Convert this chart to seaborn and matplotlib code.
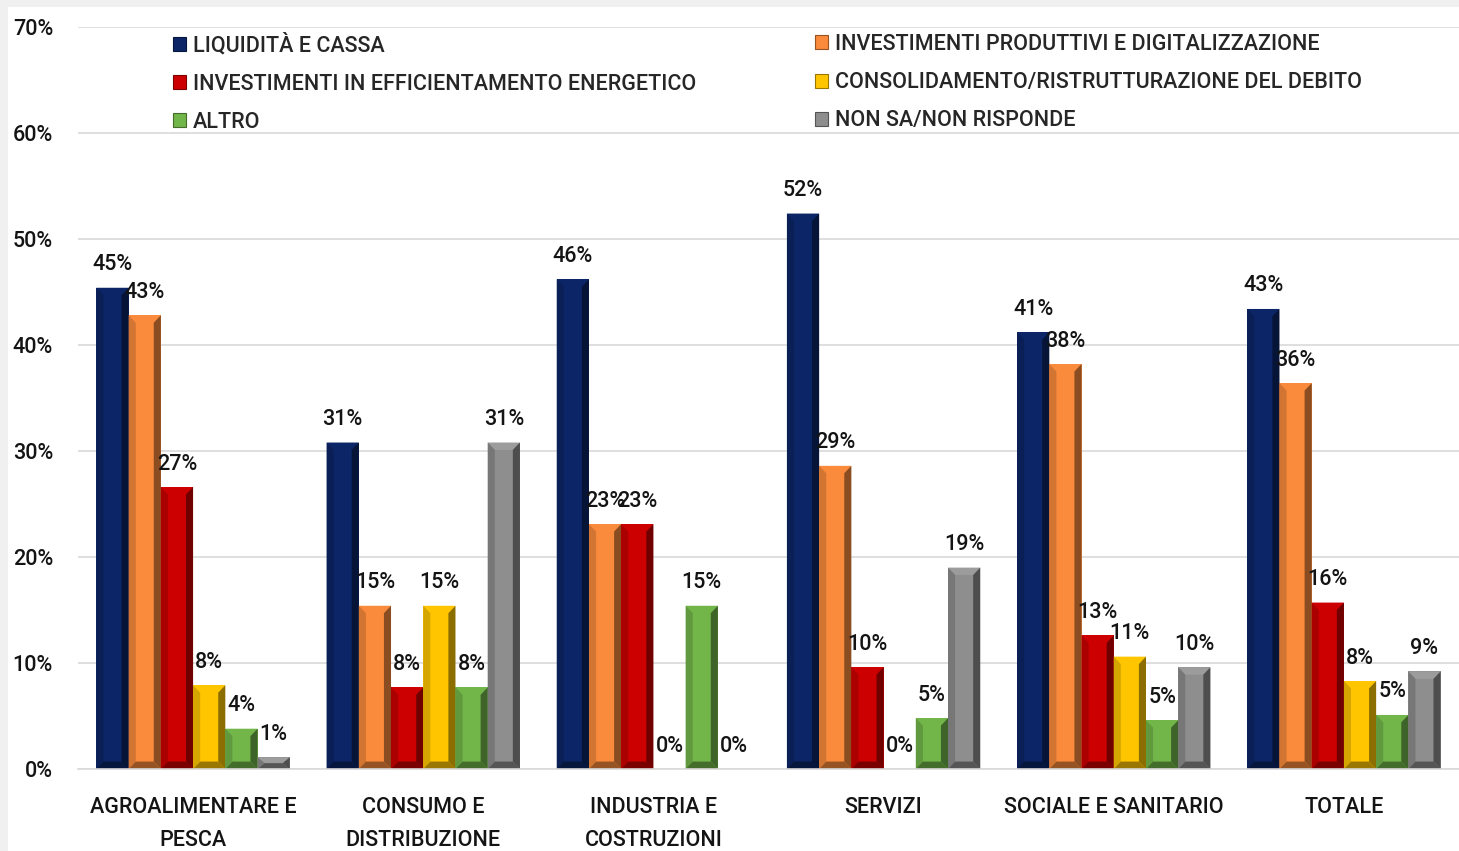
import numpy as np
import pandas as pd
import matplotlib
matplotlib.use("Agg")
import matplotlib.pyplot as plt
from matplotlib.patches import Polygon, Rectangle, Patch
from matplotlib import colors as mcolors
import seaborn as sns

# ---- data -------------------------------------------------------------
sectors = [
    "AGROALIMENTARE E\nPESCA",
    "CONSUMO E\nDISTRIBUZIONE",
    "INDUSTRIA E\nCOSTRUZIONI",
    "SERVIZI",
    "SOCIALE E SANITARIO",
    "TOTALE",
]
series = [
    "LIQUIDITÀ E CASSA",
    "INVESTIMENTI PRODUTTIVI E DIGITALIZZAZIONE",
    "INVESTIMENTI IN EFFICIENTAMENTO ENERGETICO",
    "CONSOLIDAMENTO/RISTRUTTURAZIONE DEL DEBITO",
    "ALTRO",
    "NON SA/NON RISPONDE",
]
liquidita = [45.4, 30.8, 46.2, 52.4, 41.2, 43.4]
inv_produttivi = [42.8, 15.4, 23.1, 28.6, 38.2, 36.4]
inv_energetico = [26.6, 7.7, 23.1, 9.6, 12.6, 15.7]
consolidamento = [7.9, 15.4, 0.0, 0.0, 10.6, 8.3]
altro = [3.8, 7.7, 15.4, 4.8, 4.6, 5.1]
non_sa = [1.1, 30.8, 0.0, 19.0, 9.6, 9.2]
y_ticks = [0, 10, 20, 30, 40, 50, 60, 70]

palette = ["#0b2566", "#fa8a3c", "#cc0000", "#ffc600", "#72b64a", "#8e8e8e"]

values = [liquidita, inv_produttivi, inv_energetico, consolidamento, altro, non_sa]
df = pd.DataFrame(
    [(sec, ser, v) for ser, vals in zip(series, values) for sec, v in zip(sectors, vals)],
    columns=["settore", "voce", "quota"],
)

sns.set_theme(style="white")
plt.rcParams["font.family"] = ["Roboto", "DejaVu Sans"]
plt.rcParams["font.weight"] = "medium"
FS = 15.5
TXT = "#141414"

fig = plt.figure(figsize=(14.59, 8.51), dpi=100, facecolor="white")
# light frame along the top and left edges
fig.patches.append(Rectangle((0, 1 - 7 / 851), 1, 7 / 851, transform=fig.transFigure,
                             facecolor="#f0f0f0", edgecolor="none", zorder=-5))
fig.patches.append(Rectangle((0, 0), 8 / 1459, 1, transform=fig.transFigure,
                             facecolor="#f0f0f0", edgecolor="none", zorder=-5))

ax = fig.add_axes([78 / 1459, 1 - 769 / 851, 1 - 78 / 1459, (769 - 27) / 851])
ax.set_facecolor("none")

sns.barplot(data=df, x="settore", y="quota", hue="voce", order=sectors,
            hue_order=series, palette=palette, width=0.84, saturation=1,
            linewidth=0, legend=False, ax=ax)


def shade(c, f):
    r, g, b = mcolors.to_rgb(c)
    return (r * f, g * f, b * f)


def tint(c, f):
    r, g, b = mcolors.to_rgb(c)
    return (r + (1 - r) * f, g + (1 - g) * f, b + (1 - b) * f)


# bevelled faces on each bar
for cont, col in zip(ax.containers, palette):
    for bar in cont:
        h = bar.get_height()
        if h <= 0:
            continue
        x0 = bar.get_x()
        w = bar.get_width()
        x1 = x0 + w
        i = 0.22 * w
        vb = min(0.7, h / 2)
        y0, y1 = 0, h
        top_col = tint(col, 0.12) if col == "#8e8e8e" else col
        polys = [
            ([(x0, y1), (x1, y1), (x1 - i, y1 - vb), (x0 + i, y1 - vb)], top_col),
            ([(x0, y0), (x0 + i, y0 + vb), (x0 + i, y1 - vb), (x0, y1)], shade(col, 0.84)),
            ([(x1, y0), (x1 - i, y0 + vb), (x1 - i, y1 - vb), (x1, y1)], shade(col, 0.55)),
            ([(x0, y0), (x1, y0), (x1 - i, y0 + vb), (x0 + i, y0 + vb)], shade(col, 0.6)),
        ]
        for pts, pc in polys:
            ax.add_patch(Polygon(pts, closed=True, facecolor=pc, edgecolor="none",
                                 zorder=bar.get_zorder() + 0.1))
    ax.bar_label(cont, labels=[f"{v:.0f}%" for v in cont.datavalues],
                 padding=9, fontsize=FS, color=TXT, zorder=5)

# ---- axes styling -----------------------------------------------------
ax.set_xlim(-0.5, len(sectors) - 0.5)
ax.set_ylim(0, 70)
ax.set_yticks(y_ticks)
ax.set_yticklabels([f"{t}%" for t in y_ticks])
ax.yaxis.grid(True, color="#d9d9d9", linewidth=1.2)
ax.set_axisbelow(True)
ax.tick_params(axis="y", length=0, pad=18, labelsize=FS, labelcolor=TXT)
ax.tick_params(axis="x", length=0, pad=20, labelsize=FS, labelcolor=TXT)
for lab in ax.get_xticklabels():
    lab.set_linespacing(1.75)
ax.set_xlabel("")
ax.set_ylabel("")
for side in ["top", "right", "left"]:
    ax.spines[side].set_visible(False)
ax.spines["bottom"].set_color("#d9d9d9")
ax.spines["bottom"].set_linewidth(1.2)

# ---- legend in two columns -------------------------------------------
handles = [Patch(facecolor=c, edgecolor=shade(c, 0.6), linewidth=0.8) for c in palette]
leg_kw = dict(frameon=False, fontsize=FS, handlelength=0.62, handleheight=0.62,
              handletextpad=0.3, labelspacing=0.8, borderaxespad=0, borderpad=0,
              loc="upper left")
fig.legend([handles[0], handles[2], handles[4]], [series[0], series[2], series[4]],
           bbox_to_anchor=(173 / 1459, 1 - 34 / 851), **leg_kw)
fig.legend([handles[1], handles[3], handles[5]], [series[1], series[3], series[5]],
           bbox_to_anchor=(815 / 1459, 1 - 34 / 851), **leg_kw)

fig.savefig("out.png", dpi=100, facecolor=fig.get_facecolor())
